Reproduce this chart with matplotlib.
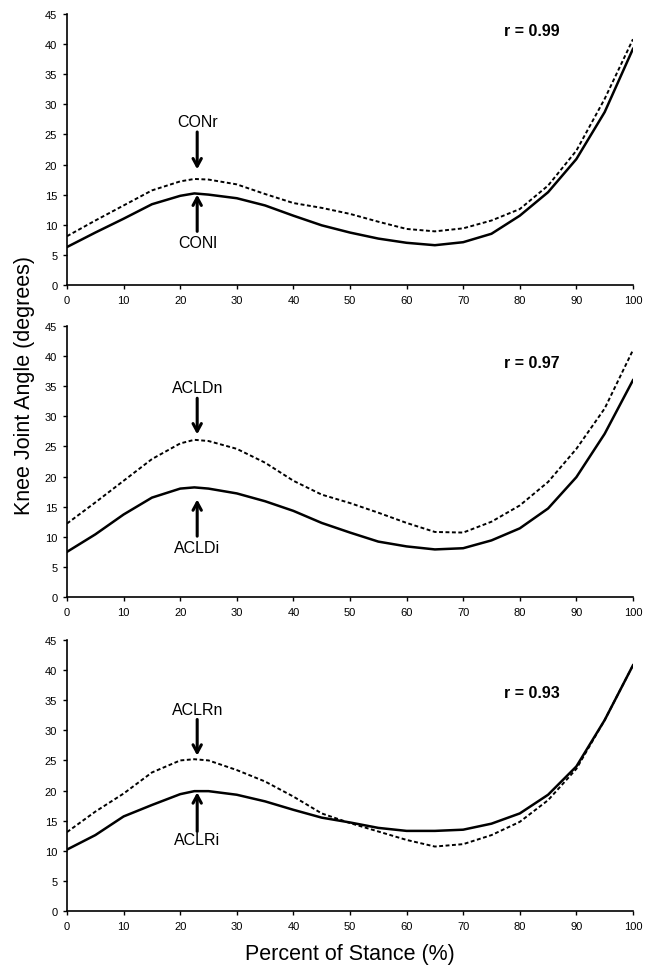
import matplotlib.pyplot as plt

plt.rcParams['font.family'] = ['Liberation Sans', 'DejaVu Sans']

# percent of stance
stance = [0, 5, 10, 15, 20, 22.5, 25, 30, 35, 40, 45, 50, 55, 60, 65, 70, 75, 80, 85, 90, 95, 100]

# knee angle curves (degrees)
con_l = [6.3, 8.7, 11.0, 13.4, 14.8, 15.2, 15.0, 14.4, 13.2, 11.5, 9.9, 8.7, 7.7, 7.0, 6.6, 7.1, 8.5, 11.5, 15.4, 20.9, 28.7, 39.2]
con_r = [8.1, 10.7, 13.2, 15.7, 17.2, 17.6, 17.5, 16.7, 15.1, 13.6, 12.8, 11.8, 10.5, 9.3, 8.9, 9.4, 10.7, 12.6, 16.5, 22.3, 30.9, 40.8]
acld_i = [7.5, 10.4, 13.7, 16.5, 18.0, 18.2, 18.0, 17.2, 15.9, 14.3, 12.3, 10.7, 9.2, 8.4, 7.9, 8.1, 9.4, 11.4, 14.7, 19.9, 27.1, 36.0]
acld_n = [12.2, 15.7, 19.3, 22.9, 25.5, 26.1, 25.9, 24.6, 22.3, 19.3, 17.0, 15.6, 14.0, 12.3, 10.8, 10.7, 12.5, 15.2, 19.1, 24.6, 31.3, 41.0]
aclr_i = [10.2, 12.6, 15.7, 17.6, 19.4, 19.9, 19.9, 19.3, 18.2, 16.8, 15.5, 14.7, 13.8, 13.3, 13.3, 13.5, 14.5, 16.2, 19.3, 24.0, 31.7, 40.8]
aclr_n = [13.1, 16.5, 19.5, 23.0, 25.0, 25.2, 25.0, 23.4, 21.5, 19.0, 16.2, 14.6, 13.2, 11.8, 10.7, 11.1, 12.6, 14.8, 18.4, 23.6, 31.7, 40.8]

panels = [
    (con_l, con_r, "CONl", "CONr", "r = 0.99", 42.2, (27.2, 25.4, 19.2), (7.1, 8.9, 15.0)),
    (acld_i, acld_n, "ACLDi", "ACLDn", "r = 0.97", 39.0, (34.8, 33.0, 27.0), (8.2, 10.1, 16.2)),
    (aclr_i, aclr_n, "ACLRi", "ACLRn", "r = 0.93", 36.3, (33.5, 31.8, 25.8), (11.8, 13.2, 19.7)),
]

arrow_style = dict(arrowstyle='->,head_length=0.55,head_width=0.3', color='black',
                   lw=2.2, shrinkA=0, shrinkB=0)

fig = plt.figure(figsize=(6.52, 9.70), dpi=100)
bottoms = [0.7052, 0.3835, 0.0598]

for (solid, dashed, lab_s, lab_d, rtxt, ry, top_arr, bot_arr), b in zip(panels, bottoms):
    ax = fig.add_axes([0.1028, b, 0.868, 0.2794])
    ax.plot(stance, dashed, color='black', lw=1.4, linestyle=(0, (2.0, 1.3)))
    ax.plot(stance, solid, color='black', lw=1.8)
    ax.set_xlim(0, 100)
    ax.set_ylim(0, 45)
    ax.set_xticks(range(0, 101, 10))
    ax.set_yticks(range(0, 46, 5))
    ax.spines['top'].set_visible(False)
    ax.spines['right'].set_visible(False)
    ax.spines['left'].set_linewidth(1.2)
    ax.spines['bottom'].set_linewidth(1.2)
    ax.tick_params(direction='out', length=3, width=1, labelsize=8, pad=4)

    # labels with arrows pointing at the peaks
    ty, a0, a1 = top_arr
    ax.text(23, ty, lab_d, ha='center', va='center', fontsize=11.5)
    ax.annotate('', xy=(23, a1), xytext=(23, a0), arrowprops=arrow_style)
    ty, a0, a1 = bot_arr
    ax.text(23, ty, lab_s, ha='center', va='center', fontsize=11.5)
    ax.annotate('', xy=(23, a1), xytext=(23, a0), arrowprops=arrow_style)

    ax.text(82.2, ry, rtxt, ha='center', va='center', fontsize=11.5, fontweight='bold')

fig.text(0.038, 0.603, "Knee Joint Angle (degrees)", rotation=90,
         ha='center', va='center', fontsize=15.5)
fig.text(0.537, 0.016, "Percent of Stance (%)", ha='center', va='center', fontsize=15.5)

fig.savefig("out.png", dpi=100)
